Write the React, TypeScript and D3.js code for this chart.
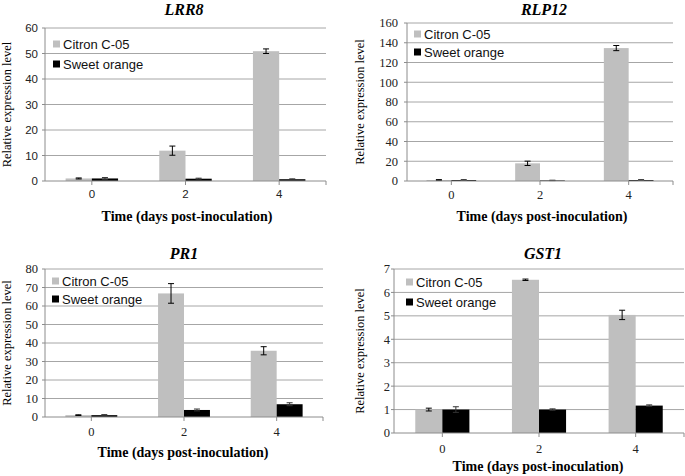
import React from "react";
import * as d3 from "d3";

// time points and series
const days = ["0", "2", "4"];
const seriesNames = ["Citron C-05", "Sweet orange"];
const seriesColors = ["#bfbfbf", "#000000"];

// LRR8
const lrr8Citron = [1.0, 11.9, 50.9];
const lrr8CitronErr = [0.2, 1.8, 0.9];
const lrr8Orange = [1.0, 0.9, 0.7];
const lrr8OrangeErr = [0.35, 0.2, 0.15];
const lrr8Ticks = [0, 10, 20, 30, 40, 50, 60];

// RLP12
const rlp12Citron = [1.0, 17.9, 134.6];
const rlp12CitronErr = [0.4, 2.2, 2.6];
const rlp12Orange = [1.0, 0.6, 1.0];
const rlp12OrangeErr = [0.4, 0.2, 0.4];
const rlp12Ticks = [0, 20, 40, 60, 80, 100, 120, 140, 160];

// PR1
const pr1Citron = [1.0, 66.8, 35.8];
const pr1CitronErr = [0.2, 5.3, 2.2];
const pr1Orange = [1.0, 3.8, 6.9];
const pr1OrangeErr = [0.3, 0.5, 0.8];
const pr1Ticks = [0, 10, 20, 30, 40, 50, 60, 70, 80];

// GST1
const gst1Citron = [1.0, 6.54, 5.04];
const gst1CitronErr = [0.06, 0.03, 0.2];
const gst1Orange = [1.0, 1.0, 1.17];
const gst1OrangeErr = [0.12, 0.03, 0.03];
const gst1Ticks = [0, 1, 2, 3, 4, 5, 6, 7];

const SERIF = '"Liberation Serif"';
const SANS = '"Liberation Sans"';

type PanelProps = {
  title: string;
  values: number[][];
  errors: number[][];
  ticks: number[];
  left: number;
  right: number;
  top: number;
  bottom: number;
  titleX: number;
  titleY: number;
  xTitleX: number;
  xTitleY: number;
  xLabelY: number;
  yLabelX: number;
  yTitleX: number;
  legendX: number;
  legendY: number;
  legendGap: number;
  tickFont: string;
};

const Panel = (p: PanelProps) => {
  const x = d3.scaleBand().domain(days).range([p.left, p.right]).paddingInner(0.44).paddingOuter(0.22);
  const xs = d3.scaleBand().domain(seriesNames).range([0, x.bandwidth()]);
  const y = d3.scaleLinear().domain([0, p.ticks[p.ticks.length - 1]]).range([p.bottom, p.top]);
  const cap = 3;
  const tickSize = p.tickFont === SANS ? 11.5 : 12.5;

  return (
    <g>
      <text x={p.titleX} y={p.titleY} textAnchor="middle" style={{ fontFamily: SERIF }} fontSize={16}
        fontWeight="bold" fontStyle="italic">{p.title}</text>

      {/* gridlines + y ticks */}
      {p.ticks.map((t) => (
        <g key={t}>
          {t > 0 && <line x1={p.left} x2={p.right} y1={y(t)} y2={y(t)} stroke="#a6a6a6" strokeWidth={1} />}
          <line x1={p.left - 3} x2={p.left} y1={y(t)} y2={y(t)} stroke="#8c8c8c" />
          <text x={p.yLabelX} y={y(t)} dy="0.35em" textAnchor="end" style={{ fontFamily: p.tickFont }}
            fontSize={tickSize} fill="#222">{t}</text>
        </g>
      ))}
      <line x1={p.left} x2={p.left} y1={p.top} y2={p.bottom} stroke="#8c8c8c" />

      {/* bars */}
      {seriesNames.map((s, si) =>
        days.map((d, di) => {
          const v = p.values[si][di];
          const bx = (x(d) ?? 0) + (xs(s) ?? 0);
          return (
            <rect key={s + d} x={bx} y={y(v)} width={xs.bandwidth()} height={p.bottom - y(v)}
              fill={seriesColors[si]} />
          );
        })
      )}

      {/* error bars */}
      {seriesNames.map((s, si) =>
        days.map((d, di) => {
          const v = p.values[si][di];
          const e = p.errors[si][di];
          const cx = (x(d) ?? 0) + (xs(s) ?? 0) + xs.bandwidth() / 2;
          const col = si === 1 ? "#333" : "#000";
          return (
            <g key={"e" + s + d} stroke={col} strokeWidth={1}>
              <line x1={cx} x2={cx} y1={y(v + e)} y2={y(v - e)} />
              <line x1={cx - cap} x2={cx + cap} y1={y(v + e)} y2={y(v + e)} />
              <line x1={cx - cap} x2={cx + cap} y1={y(v - e)} y2={y(v - e)} />
            </g>
          );
        })
      )}

      {/* x axis */}
      <line x1={p.left} x2={p.right} y1={p.bottom} y2={p.bottom} stroke="#8c8c8c" />
      {days.map((d) => {
        const cx = (x(d) ?? 0) + x.bandwidth() / 2;
        return (
          <g key={"x" + d}>
            <line x1={cx} x2={cx} y1={p.bottom} y2={p.bottom + 4} stroke="#8c8c8c" />
            <text x={cx} y={p.xLabelY} textAnchor="middle" style={{ fontFamily: p.tickFont }}
              fontSize={tickSize} fill="#222">{d}</text>
          </g>
        );
      })}
      <line x1={p.right} x2={p.right} y1={p.bottom} y2={p.bottom + 4} stroke="#8c8c8c" />
      <text x={p.xTitleX} y={p.xTitleY} textAnchor="middle" style={{ fontFamily: SERIF }} fontSize={14}
        fontWeight="bold">Time (days post-inoculation)</text>
      <text transform={`translate(${p.yTitleX},${(p.top + p.bottom) / 2}) rotate(-90)`} textAnchor="middle"
        dy="0.35em" style={{ fontFamily: SERIF }} fontSize={12.5}>Relative expression level</text>

      {/* legend */}
      {seriesNames.map((s, si) => (
        <g key={"l" + s} transform={`translate(${p.legendX},${p.legendY + si * p.legendGap})`}>
          <rect x={0} y={-3.5} width={7} height={7} fill={seriesColors[si]} />
          <text x={10} y={0} dy="0.36em" style={{ fontFamily: SANS }} fontSize={13} fill="#111">{s}</text>
        </g>
      ))}
    </g>
  );
};

export default function App() {
  return (
    <svg width={685} height={476} style={{ position: "absolute", left: 0, top: 0, background: "#fff" }}>
      <rect width={685} height={476} fill="#fff" />
      <Panel title="LRR8" values={[lrr8Citron, lrr8Orange]} errors={[lrr8CitronErr, lrr8OrangeErr]}
        ticks={lrr8Ticks} left={45} right={326} top={28} bottom={181} titleX={184} titleY={15}
        xTitleX={187} xTitleY={221} xLabelY={198} yLabelX={38} yTitleX={7}
        legendX={53} legendY={44} legendGap={20} tickFont={SANS} />
      <Panel title="RLP12" values={[rlp12Citron, rlp12Orange]} errors={[rlp12CitronErr, rlp12OrangeErr]}
        ticks={rlp12Ticks} left={407} right={673} top={23} bottom={181} titleX={544} titleY={15}
        xTitleX={542} xTitleY={221} xLabelY={199} yLabelX={398} yTitleX={360}
        legendX={414} legendY={34} legendGap={18} tickFont={SERIF} />
      <Panel title="PR1" values={[pr1Citron, pr1Orange]} errors={[pr1CitronErr, pr1OrangeErr]}
        ticks={pr1Ticks} left={45} right={323} top={269} bottom={417} titleX={184} titleY={259}
        xTitleX={183} xTitleY={457} xLabelY={436} yLabelX={38} yTitleX={7}
        legendX={52} legendY={281} legendGap={18} tickFont={SERIF} />
      <Panel title="GST1" values={[gst1Citron, gst1Orange]} errors={[gst1CitronErr, gst1OrangeErr]}
        ticks={gst1Ticks} left={394} right={684} top={269} bottom={433} titleX={543} titleY={259}
        xTitleX={538} xTitleY={471} xLabelY={453} yLabelX={390} yTitleX={360}
        legendX={406} legendY={282} legendGap={20} tickFont={SERIF} />
    </svg>
  );
}
